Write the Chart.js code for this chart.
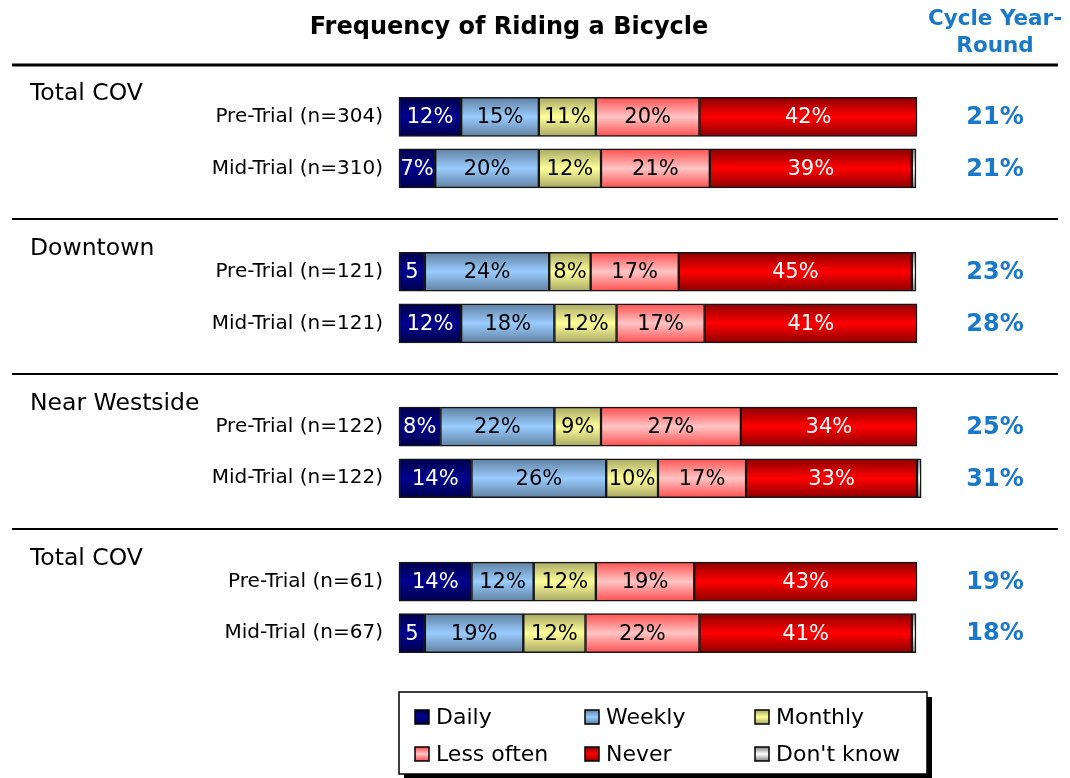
<!DOCTYPE html>
<html>
<head>
<meta charset="utf-8">
<title>Frequency of Riding a Bicycle</title>
<script src="https://cdn.jsdelivr.net/npm/chart.js@4.4.1/dist/chart.umd.min.js"></script>
<style>
    body { margin: 0; background: #fff; }
    #wrap { position: relative; width: 1070px; height: 778px; }
</style>
</head>
<body>
<div id="wrap"><canvas id="chart-bar"></canvas></div>
<script>
// rows: pre/mid trial per area, empty rows are the gaps between groups
let categories = ['Pre-Trial (n=304)', 'Mid-Trial (n=310)', '',
    'Pre-Trial (n=121)', 'Mid-Trial (n=121)', '',
    'Pre-Trial (n=122)', 'Mid-Trial (n=122)', '',
    'Pre-Trial (n=61)', 'Mid-Trial (n=67)']
let groups = ['Total COV', 'Downtown', 'Near Westside', 'Total COV']
let groupRows = [0, 3, 6, 9]

let daily = [12, 7, null, 5, 12, null, 8, 14, null, 14, 5]
let weekly = [15, 20, null, 24, 18, null, 22, 26, null, 12, 19]
let monthly = [11, 12, null, 8, 12, null, 9, 10, null, 12, 12]
let lessOften = [20, 21, null, 17, 17, null, 27, 17, null, 19, 22]
let never = [42, 39, null, 45, 41, null, 34, 33, null, 43, 41]
let dontKnow = [0, 0.8, null, 0.8, 0, null, 0, 0.8, null, 0, 0.8]
let yearRound = [21, 21, null, 23, 28, null, 25, 31, null, 19, 18]

let blue = '#1a78c8'
let font = "'DejaVu Sans', Verdana, sans-serif"

function shade(edge, mid) {
    return function (ctx) {
        let chart = ctx.chart
        let y = chart.scales.y
        if (!y || ctx.dataIndex === undefined) return mid
        let cy = y.getPixelForValue(ctx.dataIndex)
        if (!isFinite(cy)) return mid
        let g = chart.ctx.createLinearGradient(0, cy - 20, 0, cy + 20)
        g.addColorStop(0, edge)
        g.addColorStop(0.5, mid)
        g.addColorStop(1, edge)
        return g
    }
}

function series(label, data, edge, mid, textColor) {
    return {
        label: label,
        data: data,
        backgroundColor: shade(edge, mid),
        borderColor: '#151515',
        borderWidth: 1.5,
        borderSkipped: false,
        barThickness: 39,
        clip: false,
        edge: edge,
        mid: mid,
        textColor: textColor
    }
}

// segment value labels
let segLabels = {
    id: 'segLabels',
    afterDatasetsDraw(chart) {
        let c = chart.ctx
        c.save()
        c.font = '21px ' + font
        c.textAlign = 'center'
        c.textBaseline = 'middle'
        chart.data.datasets.forEach((ds, i) => {
            if (!ds.textColor) return
            chart.getDatasetMeta(i).data.forEach((bar, j) => {
                let v = ds.data[j]
                if (v == null || v < 3) return
                let p = bar.getProps(['x', 'y', 'base'], true)
                c.fillStyle = ds.textColor
                c.fillText(v <= 5 ? String(v) : v + '%', (p.x + p.base) / 2, p.y + 1)
            })
        })
        c.restore()
    }
}

// title, group names, separators, year-round column, legend
let decor = {
    id: 'decor',
    afterDraw(chart) {
        let c = chart.ctx
        let y = chart.scales.y
        c.save()

        c.fillStyle = '#000'
        c.font = 'bold 24px ' + font
        c.textAlign = 'center'
        c.textBaseline = 'middle'
        c.fillText('Frequency of Riding a Bicycle', 509, 28)

        c.fillStyle = blue
        c.font = 'bold 21.5px ' + font
        c.fillText('Cycle Year-', 995, 19)
        c.fillText('Round', 995, 46)

        // separators
        c.strokeStyle = '#000'
        let lines = [-1, 2, 5, 8]
        lines.forEach((r, k) => {
            let ly = Math.round(y.getPixelForValue(r)) - 1
            c.lineWidth = k === 0 ? 3 : 2
            c.beginPath()
            c.moveTo(12, ly + (k === 0 ? 1 : 0))
            c.lineTo(1058, ly + (k === 0 ? 1 : 0))
            c.stroke()
        })

        c.fillStyle = '#000'
        c.font = '23.5px ' + font
        c.textAlign = 'left'
        groups.forEach((g, k) => {
            c.fillText(g, 30, y.getPixelForValue(groupRows[k]) - 23)
        })

        c.fillStyle = blue
        c.font = 'bold 24px ' + font
        c.textAlign = 'center'
        yearRound.forEach((v, j) => {
            if (v == null) return
            c.fillText(v + '%', 995, y.getPixelForValue(j) + 1)
        })

        // legend box with shadow
        let lx = 399, ly = 692, lw = 528, lh = 82
        c.fillStyle = '#000'
        c.fillRect(lx + 5, ly + 5, lw, lh)
        c.fillStyle = '#fff'
        c.fillRect(lx, ly, lw, lh)
        c.strokeStyle = '#000'
        c.lineWidth = 1.5
        c.strokeRect(lx, ly, lw, lh)

        let cols = [415, 585, 755]
        let rows = [717, 754]
        c.font = '22px ' + font
        c.textAlign = 'left'
        chart.data.datasets.forEach((ds, i) => {
            let x = cols[i % 3]
            let yy = rows[Math.floor(i / 3)]
            let g = c.createLinearGradient(0, yy - 7, 0, yy + 7)
            g.addColorStop(0, ds.edge)
            g.addColorStop(0.5, ds.mid)
            g.addColorStop(1, ds.edge)
            c.fillStyle = g
            c.fillRect(x, yy - 7, 14, 14)
            c.strokeStyle = '#000'
            c.lineWidth = 1.5
            c.strokeRect(x, yy - 7, 14, 14)
            c.fillStyle = '#000'
            c.fillText(ds.label, x + 21, yy + 1)
        })

        c.restore()
    }
}

let bar = document.getElementById('chart-bar')

new Chart(bar, {
    type: 'bar',
    data: {
        labels: categories,
        datasets: [
            series('Daily', daily, '#00004a', '#000090', '#ffffff'),
            series('Weekly', weekly, '#5f7f9f', '#99ccff', '#000000'),
            series('Monthly', monthly, '#a6a664', '#ffff99', '#000000'),
            series('Less often', lessOften, '#ff4d4d', '#ffc4c4', '#000000'),
            series('Never', never, '#8a0000', '#ff0000', '#ffffff'),
            series("Don't know", dontKnow, '#808080', '#ffffff', null)
        ]
    },
    options: {
        indexAxis: 'y',
        responsive: true,
        maintainAspectRatio: false,
        animation: false,
        layout: {
            padding: { left: 0, right: 153, top: 91, bottom: 119 }
        },
        scales: {
            x: {
                stacked: true,
                display: false,
                min: 0,
                max: 100
            },
            y: {
                stacked: true,
                afterFit(scale) { scale.width = 399 },
                border: { display: false },
                grid: { display: false, drawTicks: false },
                ticks: {
                    padding: 16,
                    color: '#000',
                    font: { family: font, size: 20 }
                }
            }
        },
        plugins: {
            legend: { display: false },
            tooltip: { enabled: false },
            title: { display: false }
        }
    },
    plugins: [segLabels, decor]
})
</script>
</body>
</html>
